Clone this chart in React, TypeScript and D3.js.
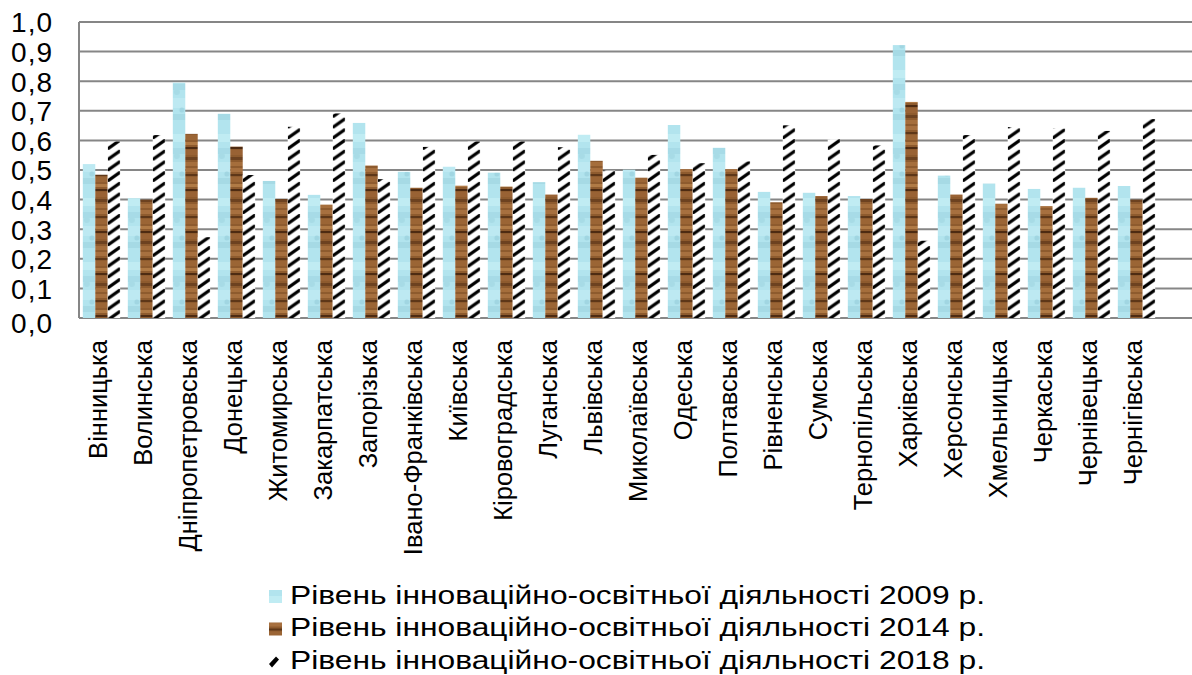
import React from "react";
import * as d3 from "d3";

const categories = [
  "Вінницька", "Волинська", "Дніпропетровська", "Донецька", "Житомирська", "Закарпатська",
  "Запорізька", "Івано-Франківська", "Київська", "Кіровоградська", "Луганська", "Львівська",
  "Миколаївська", "Одеська", "Полтавська", "Рівненська", "Сумська", "Тернопільська",
  "Харківська", "Херсонська", "Хмельницька", "Черкаська", "Чернівецька", "Чернігівська",
];

const values2009 = [0.52, 0.405, 0.795, 0.69, 0.463, 0.416, 0.659, 0.494, 0.511, 0.491, 0.459, 0.619,
  0.501, 0.652, 0.575, 0.426, 0.423, 0.412, 0.922, 0.481, 0.454, 0.436, 0.44, 0.446];
const values2014 = [0.484, 0.4, 0.622, 0.579, 0.402, 0.383, 0.515, 0.44, 0.447, 0.444, 0.417, 0.531,
  0.474, 0.503, 0.503, 0.391, 0.412, 0.402, 0.73, 0.417, 0.386, 0.378, 0.406, 0.4];
const values2018 = [0.596, 0.618, 0.273, 0.483, 0.646, 0.691, 0.469, 0.578, 0.596, 0.596, 0.577, 0.498,
  0.551, 0.523, 0.529, 0.651, 0.604, 0.583, 0.261, 0.618, 0.645, 0.64, 0.632, 0.672];

const seriesKeys = ["2009", "2014", "2018"];
const seriesLabels = [
  "Рівень інноваційно-освітньої діяльності  2009 р.",
  "Рівень інноваційно-освітньої діяльності  2014 р.",
  "Рівень інноваційно-освітньої діяльності  2018 р.",
];
const yTicks = [0, 0.1, 0.2, 0.3, 0.4, 0.5, 0.6, 0.7, 0.8, 0.9, 1.0];

const W = 1192;
const H = 675;
const left = 79;
const top = 22;
const bottom = 318;
const step = 45;

export default function App() {
  const series = [values2009, values2014, values2018];
  const x0 = d3
    .scaleBand<string>()
    .domain(categories)
    .range([left, left + step * categories.length])
    .paddingInner(0.17)
    .paddingOuter(0.085);
  const x1 = d3.scaleBand<string>().domain(seriesKeys).range([0, x0.bandwidth()]);
  const y = d3.scaleLinear().domain([0, 1]).range([bottom, top]);
  const fmt = (v: number) => d3.format(".1f")(v).replace(".", ",");
  const bw = x1.bandwidth();
  // pattern coordinates are in each group's local (translated) space
  const hatchX = x1("2018") as number;
  const fills = ["url(#pBlue)", "url(#pBrown)", "url(#pHatch)"];
  const ph = 10.7;
  const hatchPath = `M0,${ph - 3.0} L${bw},-1.0 L${bw},3.0 L0,${ph + 1.0} Z`;

  return (
    <svg
      width={W}
      height={H}
      style={{ position: "absolute", left: 0, top: 0, background: "#fff" }}
      fontFamily="'Liberation Sans', Arial, sans-serif"
    >
      <defs>
        <pattern id="pBlue" patternUnits="userSpaceOnUse" width={13} height={64}>
          <rect width={13} height={64} fill="#b2e4ee" />
          <rect y={6} width={13} height={8} fill="#c3eef4" opacity={0.8} />
          <rect y={20} width={13} height={6} fill="#a3d8e4" opacity={0.7} />
          <rect y={34} width={13} height={10} fill="#bfeaf2" opacity={0.8} />
          <rect y={50} width={13} height={6} fill="#9fd3e0" opacity={0.6} />
          <circle cx={4} cy={28} r={3} fill="#a7dbe6" />
          <circle cx={9} cy={46} r={2.5} fill="#a1d6e2" />
        </pattern>
        <pattern id="pBrown" patternUnits="userSpaceOnUse" width={13} height={42}>
          <rect width={13} height={42} fill="#8e5b2e" />
          <rect y={0} width={13} height={4} fill="#a7703f" />
          <rect y={6} width={13} height={2} fill="#5e3718" />
          <rect y={9} width={13} height={5} fill="#9b6535" />
          <rect y={16} width={13} height={3} fill="#b07a45" />
          <rect y={21} width={13} height={2} fill="#4e2b12" />
          <rect y={24} width={13} height={5} fill="#996234" />
          <rect y={31} width={13} height={3} fill="#6d4220" />
          <rect y={36} width={13} height={4} fill="#a56e3c" />
        </pattern>
        <pattern id="pHatch" patternUnits="userSpaceOnUse" x={hatchX} y={0} width={step} height={ph}>
          <rect width={step} height={ph} fill="#fff" />
          <path d={hatchPath} fill="#000" />
        </pattern>
        <pattern id="pHatchLeg" patternUnits="userSpaceOnUse" width={13} height={13}>
          <rect width={13} height={13} fill="#fff" />
          <path d="M0,9 L7,1.5 L10,4.5 L3,12.5 Z" fill="#000" />
        </pattern>
      </defs>

      {/* gridlines */}
      {yTicks.map((t) => (
        <line key={t} x1={left} x2={W} y1={y(t)} y2={y(t)} stroke="#868686" strokeWidth={2} />
      ))}
      <line x1={left} x2={left} y1={top} y2={bottom} stroke="#868686" strokeWidth={2} />

      {/* y labels */}
      {yTicks.map((t) => (
        <text
          key={"l" + t}
          x={53}
          y={y(t) + (t === 0 ? 8 : 3)}
          textAnchor="end"
          dominantBaseline="middle"
          fontSize={28}
          letterSpacing={1}
          fill="#000"
        >
          {fmt(t)}
        </text>
      ))}

      {/* bars */}
      {categories.map((c, i) => (
        <g key={c} transform={`translate(${x0(c)},0)`}>
          {seriesKeys.map((k, s) => (
            <rect
              key={k}
              x={x1(k)}
              y={y(series[s][i])}
              width={bw}
              height={bottom - y(series[s][i])}
              fill={fills[s]}
            />
          ))}
        </g>
      ))}

      {/* x labels */}
      {categories.map((c) => (
        <text
          key={"x" + c}
          transform={`translate(${(x0(c) as number) + x0.bandwidth() / 2 - 3},340) rotate(-90)`}
          textAnchor="end"
          dy="0.35em"
          fontSize={25.5}
          fill="#000"
        >
          {c}
        </text>
      ))}

      {/* legend */}
      {seriesLabels.map((lab, s) => (
        <g key={lab} transform={`translate(269,${590 + s * 32.5})`}>
          <rect
            width={13}
            height={13}
            fill={s === 2 ? "url(#pHatchLeg)" : fills[s]}
          />
          <text
            x={21}
            y={7}
            dominantBaseline="middle"
            fontSize={26}
            textLength={695}
            lengthAdjust="spacingAndGlyphs"
            fill="#000"
          >
            {lab}
          </text>
        </g>
      ))}
    </svg>
  );
}
